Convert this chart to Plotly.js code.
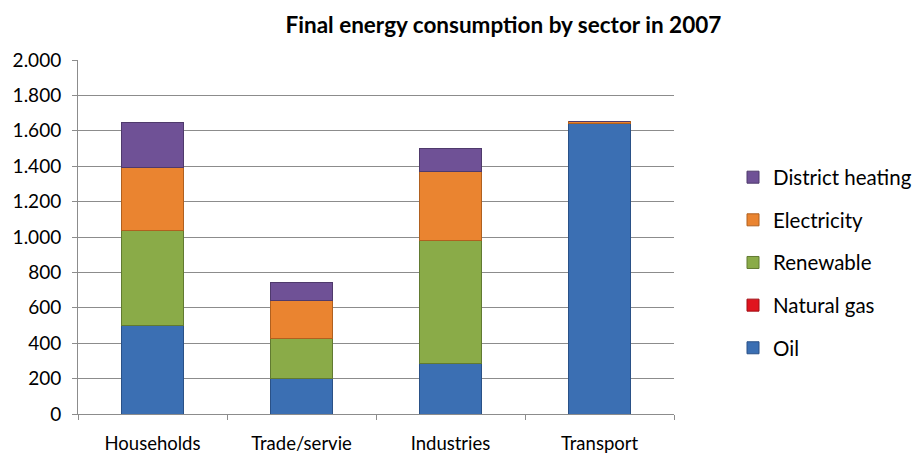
<!DOCTYPE html>
<html>
<head>
<meta charset="utf-8">
<script src="https://cdn.plot.ly/plotly-3.0.1.min.js"></script>
<style>html,body{margin:0;padding:0;background:#fff;}#chart{width:917px;height:455px;}</style>
</head>
<body>
<div id="chart"></div>
<script>
const categories = ["Households", "Trade/servie", "Industries", "Transport"];
const oil = [500, 200, 285, 1640];
const naturalGas = [0, 0, 0, 0];
const renewable = [535, 225, 695, 0];
const electricity = [355, 215, 390, 10];
const districtHeating = [255, 105, 130, 0];
const seriesNames = ["Oil", "Natural gas", "Renewable", "Electricity", "District heating"];
const yTicks = [0, 200, 400, 600, 800, 1000, 1200, 1400, 1600, 1800, 2000];

const fills = ["#3b6fb3", "#e0141e", "#8aab48", "#ea8430", "#6f5196"];
const edges = ["#2a5187", "#a00f15", "#617a31", "#b0601f", "#4f3a6c"];
const values = [oil, naturalGas, renewable, electricity, districtHeating];

const traces = values.map((v, i) => ({
  type: "bar",
  name: seriesNames[i],
  x: categories,
  y: v,
  legendgroup: "g" + i,
  legendrank: values.length - i,
  marker: {color: fills[i], line: {color: edges[i], width: 1}},
  hoverinfo: "x+y+name"
}));

const layout = {
  width: 917, height: 455,
  margin: {l: 78, r: 243, t: 60, b: 41, autoexpand: false},
  paper_bgcolor: "#ffffff", plot_bgcolor: "#ffffff",
  barmode: "stack",
  bargap: 0.59,
  separators: ",.",
  font: {family: "Lato, 'Open Sans', sans-serif", size: 18, color: "#000"},
  title: {
    text: "<b>Final energy consumption by sector in 2007</b>",
    font: {family: "Lato, 'Open Sans', sans-serif", size: 22.5, color: "#000"},
    x: 0.549, xref: "container", xanchor: "center",
    y: 0.945, yref: "container", yanchor: "middle"
  },
  xaxis: {
    type: "category",
    showline: true, linecolor: "#8c8c8c", linewidth: 1,
    ticks: "outside", ticklen: 5, tickcolor: "#8c8c8c",
    tickson: "boundaries",
    showgrid: false,
    tickfont: {size: 18.5, color: "#000"},
    ticklabelstandoff: 13
  },
  yaxis: {
    range: [0, 2000],
    tickvals: yTicks,
    separatethousands: true,
    tickformat: ",d",
    showline: true, linecolor: "#8c8c8c", linewidth: 1,
    ticks: "outside", ticklen: 5, tickcolor: "#8c8c8c",
    ticklabelstandoff: 7,
    showgrid: true, gridcolor: "#8c8c8c", gridwidth: 1,
    zeroline: false,
    tickfont: {size: 19, color: "#000"}
  },
  legend: {
    x: 1.099, xanchor: "left",
    y: 0.725, yanchor: "top",
    traceorder: "grouped",
    tracegroupgap: 13,
    font: {size: 20.5, color: "#000"},
    itemwidth: 30,
    bgcolor: "rgba(0,0,0,0)"
  },
  showlegend: true
};

Plotly.newPlot("chart", traces, layout, {displayModeBar: false, staticPlot: true});
</script>
</body>
</html>
